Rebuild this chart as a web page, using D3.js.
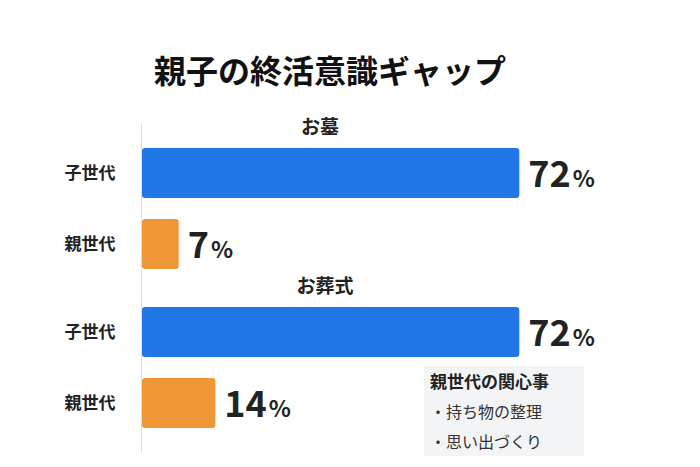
<!DOCTYPE html><html><head><meta charset="utf-8"><script src="https://cdn.jsdelivr.net/npm/d3@7"></script>
<style>body{margin:0;background:#fff}text{font-family:"Noto Sans CJK JP","Noto Sans",sans-serif}</style></head><body>
<svg id="c" width="700" height="467"></svg>
<script>
const groups=["お墓","お葬式"];
const generations=["子世代","親世代"];
const values=[[72,7],[72,14]];
const colors=["#2277e8","#ef9637"];
const noteTitle="親世代の関心事";
const noteItems=["・持ち物の整理","・思い出づくり"];
const svg=d3.select("#c");
const x=d3.scaleLinear().domain([0,75]).range([142,535]);
const gy=d3.scaleBand().domain(groups).range([148,466]);
const iy=d3.scaleBand().domain(generations).range([0,121]).paddingInner(0.296);
svg.append("text").attr("x",330).attr("y",83).attr("text-anchor","middle").attr("font-size",32).attr("font-weight",700).attr("fill","#111").text("親子の終活意識ギャップ");
svg.append("line").attr("x1",141.5).attr("x2",141.5).attr("y1",124).attr("y2",452).attr("stroke","#ddd");
groups.forEach((g,i)=>svg.append("text").attr("x",[320,325][i]).attr("y",gy(g)-14).attr("text-anchor","middle").attr("font-size",19).attr("font-weight",700).attr("fill","#222").text(g));
groups.forEach((g,i)=>generations.forEach((s,j)=>{
 const v=values[i][j],yy=gy(g)+iy(s),h=iy.bandwidth();
 svg.append("rect").attr("x",x(0)).attr("y",yy).attr("width",x(v)-x(0)).attr("height",h).attr("rx",3).attr("fill",colors[j]);
 svg.append("text").attr("x",90).attr("y",yy+h/2+6).attr("text-anchor","middle").attr("font-size",17).attr("font-weight",700).attr("fill","#222").text(s);
 const t=svg.append("text").attr("x",x(v)+9).attr("y",yy+h/2+14).attr("font-weight",700).attr("fill","#222");
 t.append("tspan").attr("font-size",36).text(v);
 t.append("tspan").attr("font-size",23).attr("dx",2).text("%");
}));
svg.append("rect").attr("x",424).attr("y",366).attr("width",160).attr("height",90).attr("fill","#f3f4f5");
svg.append("text").attr("x",430).attr("y",388).attr("font-size",17).attr("font-weight",700).attr("fill","#222").text(noteTitle);
noteItems.forEach((t,i)=>svg.append("text").attr("x",430).attr("y",418+i*30).attr("font-size",16).attr("fill","#333").text(t));
</script></body></html>
